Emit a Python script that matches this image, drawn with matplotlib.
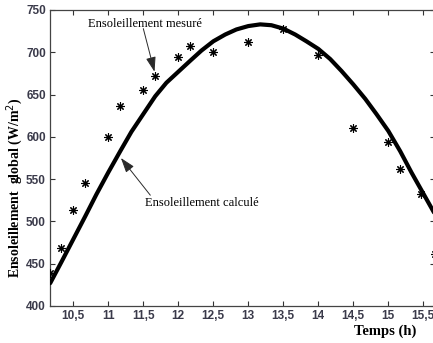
import matplotlib
matplotlib.use("Agg")
import matplotlib.pyplot as plt
from matplotlib.ticker import FixedLocator, FuncFormatter

# Calculated global irradiance (W/m2) versus time (h)
calc_time = [10.17, 10.33, 10.5, 10.67, 10.83, 11.0, 11.17, 11.33, 11.5, 11.67,
             11.83, 12.0, 12.17, 12.33, 12.5, 12.67, 12.83, 13.0, 13.17, 13.33,
             13.5, 13.67, 13.83, 14.0, 14.17, 14.33, 14.5, 14.67, 14.83, 15.0,
             15.17, 15.33, 15.5, 15.67]
calc_irr = [427, 452, 479, 506, 532, 558, 583, 606, 627, 648,
            664, 677, 690, 702, 713, 721, 727, 731, 733, 732,
            728, 721, 713, 704, 692, 678, 662, 645, 627, 607,
            583, 558, 533, 508]

# Measured global irradiance
meas_time = [10.17, 10.33, 10.5, 10.67, 11.0, 11.17, 11.5, 11.67, 12.0, 12.17,
             12.5, 13.0, 13.5, 14.0, 14.5, 15.0, 15.17, 15.47, 15.67]
meas_irr = [439, 468, 514, 546, 600, 637, 655, 672, 694, 707,
            700, 712, 727, 697, 611, 594, 562, 533, 462]

x_ticks = [10.5, 11, 11.5, 12, 12.5, 13, 13.5, 14, 14.5, 15, 15.5]
y_ticks = [400, 450, 500, 550, 600, 650, 700, 750]

W, H = 433, 343
fig = plt.figure(figsize=(W / 100, H / 100), dpi=100)
ax = fig.add_axes([50 / W, (H - 306) / H, 385 / W, 296 / H])

ax.plot(calc_time, calc_irr, color="black", lw=3.0, solid_capstyle="round", zorder=3)
ax.plot(meas_time, meas_irr, linestyle="none", marker=(8, 2, 0), markersize=6,
        mec="black", mew=0.8, color="black", zorder=4)

ax.set_xlim(10.167, 15.667)
ax.set_ylim(400, 750)

ax.xaxis.set_major_locator(FixedLocator(x_ticks))
ax.yaxis.set_major_locator(FixedLocator(y_ticks))
ax.xaxis.set_major_formatter(FuncFormatter(lambda v, p: f"{v:g}".replace(".", ",")))
ax.yaxis.set_major_formatter(FuncFormatter(lambda v, p: f"{v:g}"))

ax.tick_params(direction="in", top=True, right=True, length=3.5, width=0.8,
               color="#333333", pad=3)
for lab in ax.get_xticklabels() + ax.get_yticklabels():
    lab.set_fontfamily("Liberation Sans")
    lab.set_fontweight("bold")
    lab.set_fontsize(8.5)
    lab.set_color("#3a3a4a")
for sp in ax.spines.values():
    sp.set_color("#444444")
    sp.set_linewidth(0.9)

serif = "Liberation Serif"
ax.set_ylabel("Ensoleillement  global (W/m$^2$)", fontfamily=serif,
              fontweight="bold", fontsize=10)
ax.yaxis.set_label_coords(-0.064, 0.40)
fig.text(385 / W, 1 - 331.5 / H, "Temps (h)", fontfamily=serif, fontweight="bold",
         fontsize=10.5, ha="center", va="center")

arrow = dict(arrowstyle="-|>,head_length=0.9,head_width=0.3", color="#2a2a2a",
             lw=0.7, shrinkA=0, shrinkB=0)
ax.text(11.53, 734, "Ensoleillement mesuré", fontfamily=serif, fontsize=9,
        ha="center", va="center")
ax.annotate("", xy=(11.66, 677), xytext=(11.5, 728), arrowprops=arrow)
ax.annotate("", xy=(11.18, 575), xytext=(11.6, 531), arrowprops=arrow)
ax.text(11.52, 522, "Ensoleillement calculé", fontfamily=serif, fontsize=9,
        ha="left", va="center")

fig.savefig("out.png", dpi=100)
